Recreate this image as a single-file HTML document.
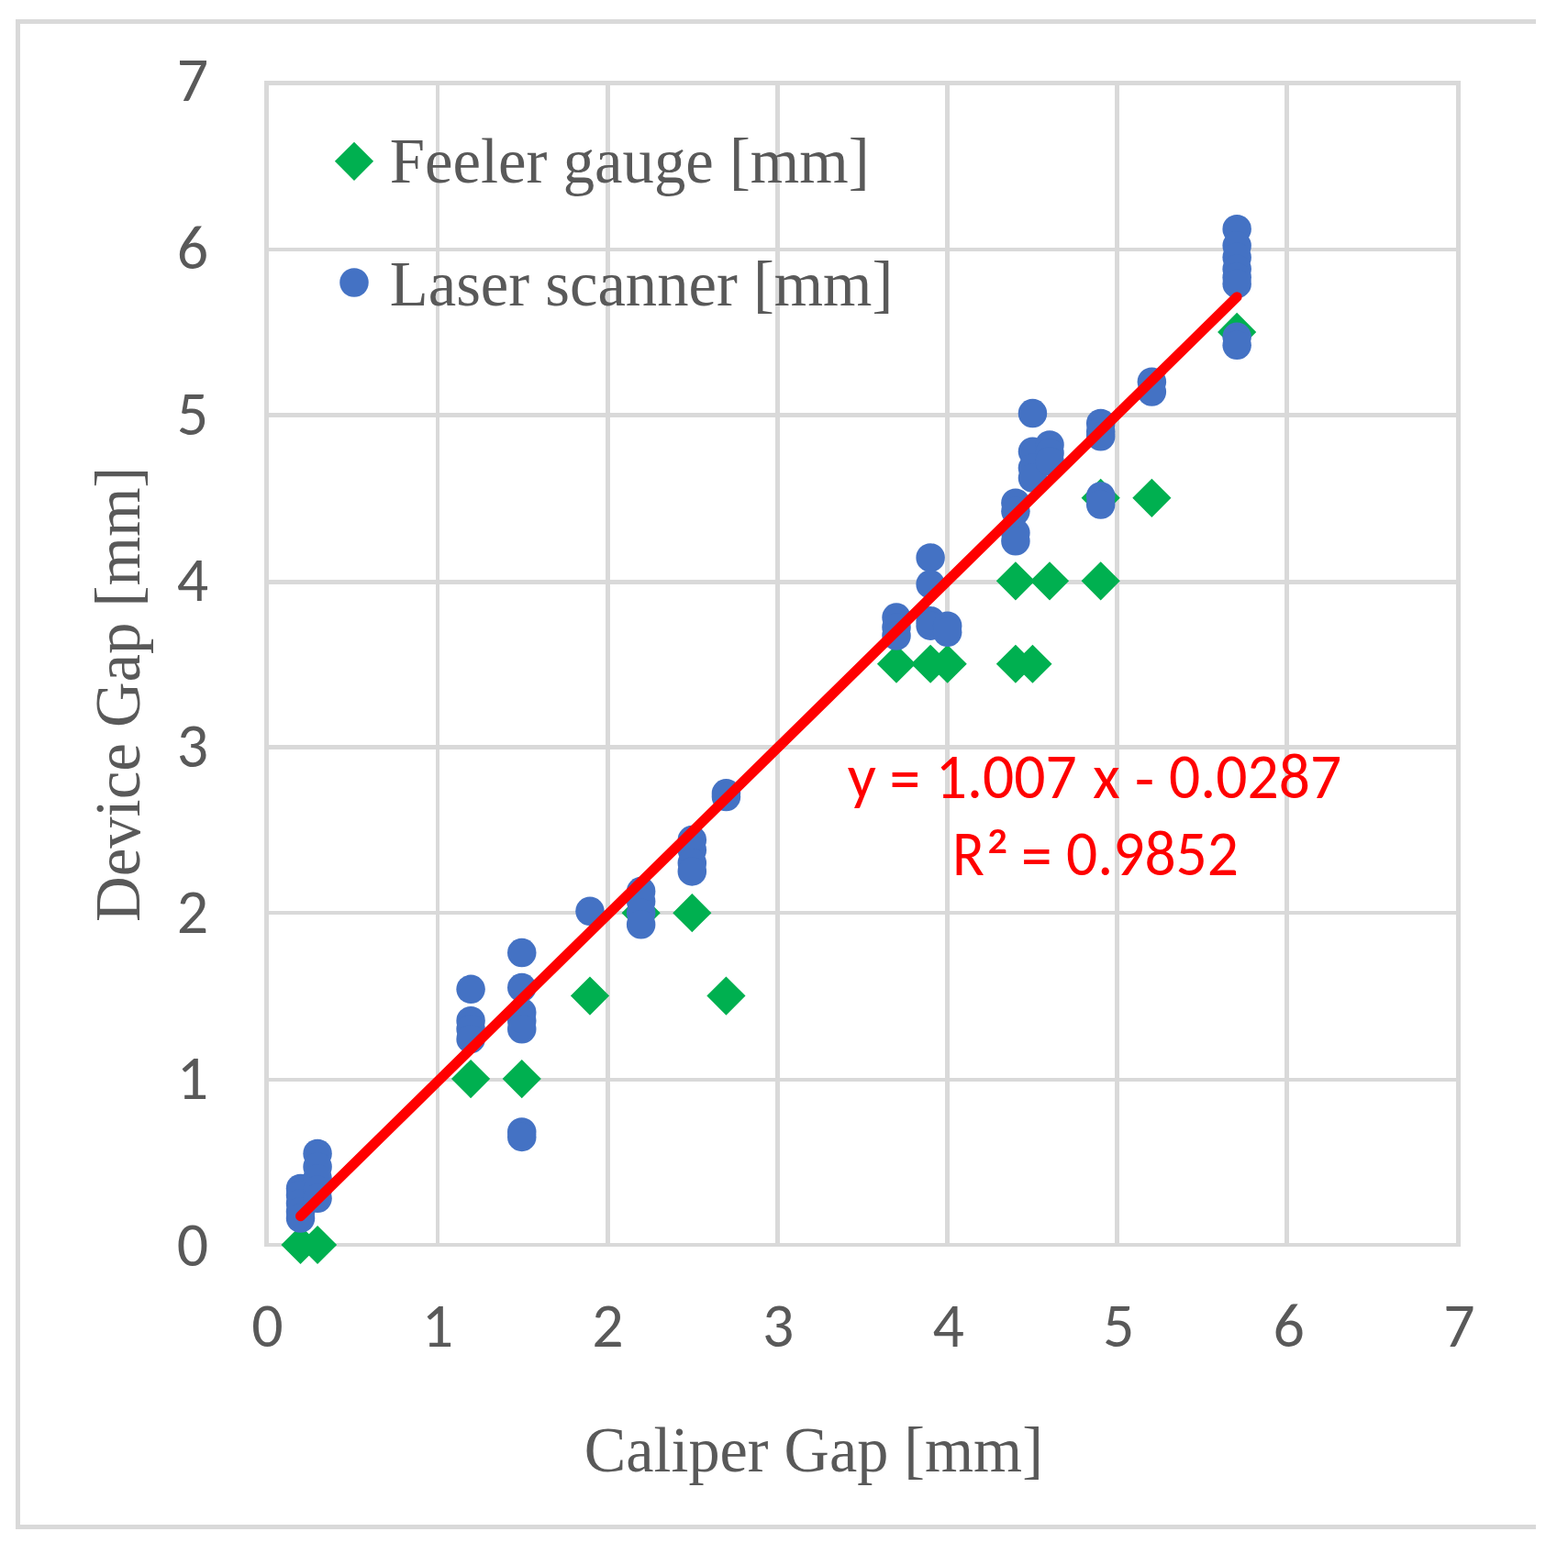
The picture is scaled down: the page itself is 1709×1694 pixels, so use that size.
<!DOCTYPE html>
<html><head><meta charset="utf-8"><title>Device Gap vs Caliper Gap</title>
<style>html,body{margin:0;padding:0;background:#fff;}body{width:1709px;height:1694px;overflow:hidden;}svg{display:block;}.ax{font-family:"Carlito","Liberation Sans",sans-serif;fill:#595959;font-size:67.8px;font-size-adjust:0.47755;}.tt{font-family:"Liberation Serif","Times New Roman",serif;fill:#595959;font-size:70px;}.eq{font-family:"Carlito","Liberation Sans",sans-serif;fill:#ff0000;font-size:67.8px;font-size-adjust:0.47755;}</style></head><body>
<svg width="1709" height="1694" viewBox="0 0 1709 1694">
<rect width="1709" height="1694" fill="#fff"/>
<g fill="#d9d9d9" shape-rendering="crispEdges">
<rect x="17" y="21" width="1657" height="5"/>
<rect x="17" y="21" width="5" height="1646"/>
<rect x="17" y="1662" width="1657" height="5"/>
<rect x="288" y="88" width="5" height="1271"/>
<rect x="475" y="88" width="4" height="1271"/>
<rect x="660" y="88" width="5" height="1271"/>
<rect x="845" y="88" width="5" height="1271"/>
<rect x="1030" y="88" width="5" height="1271"/>
<rect x="1215" y="88" width="5" height="1271"/>
<rect x="1400" y="88" width="5" height="1271"/>
<rect x="1587" y="88" width="5" height="1271"/>
<rect x="288" y="1355" width="1304" height="4"/>
<rect x="288" y="1175" width="1304" height="4"/>
<rect x="288" y="993" width="1304" height="4"/>
<rect x="288" y="812" width="1304" height="5"/>
<rect x="288" y="632" width="1304" height="5"/>
<rect x="288" y="450" width="1304" height="5"/>
<rect x="288" y="270" width="1304" height="4"/>
<rect x="288" y="88" width="1304" height="5"/>
</g>
<text class="ax" text-anchor="end" textLength="35.48" lengthAdjust="spacingAndGlyphs" transform="translate(227.2 1379.5) scale(0.97 1)">0</text>
<text class="ax" text-anchor="end" textLength="35.48" lengthAdjust="spacingAndGlyphs" transform="translate(227.2 1197.6) scale(0.97 1)">1</text>
<text class="ax" text-anchor="end" textLength="35.48" lengthAdjust="spacingAndGlyphs" transform="translate(227.2 1016.6) scale(0.97 1)">2</text>
<text class="ax" text-anchor="end" textLength="35.48" lengthAdjust="spacingAndGlyphs" transform="translate(227.2 835.7) scale(0.97 1)">3</text>
<text class="ax" text-anchor="end" textLength="35.48" lengthAdjust="spacingAndGlyphs" transform="translate(227.2 654.8) scale(0.97 1)">4</text>
<text class="ax" text-anchor="end" textLength="35.48" lengthAdjust="spacingAndGlyphs" transform="translate(227.2 473.8) scale(0.97 1)">5</text>
<text class="ax" text-anchor="end" textLength="35.48" lengthAdjust="spacingAndGlyphs" transform="translate(227.2 292.9) scale(0.97 1)">6</text>
<text class="ax" text-anchor="end" textLength="35.48" lengthAdjust="spacingAndGlyphs" transform="translate(227.2 110.1) scale(0.97 1)">7</text>
<text class="ax" text-anchor="middle" textLength="35.48" lengthAdjust="spacingAndGlyphs" transform="translate(291.4 1467.9) scale(0.97 1)">0</text>
<text class="ax" text-anchor="middle" textLength="35.48" lengthAdjust="spacingAndGlyphs" transform="translate(477.0 1467.9) scale(0.97 1)">1</text>
<text class="ax" text-anchor="middle" textLength="35.48" lengthAdjust="spacingAndGlyphs" transform="translate(662.5 1467.9) scale(0.97 1)">2</text>
<text class="ax" text-anchor="middle" textLength="35.48" lengthAdjust="spacingAndGlyphs" transform="translate(848.1 1467.9) scale(0.97 1)">3</text>
<text class="ax" text-anchor="middle" textLength="35.48" lengthAdjust="spacingAndGlyphs" transform="translate(1033.7 1467.9) scale(0.97 1)">4</text>
<text class="ax" text-anchor="middle" textLength="35.48" lengthAdjust="spacingAndGlyphs" transform="translate(1219.2 1467.9) scale(0.97 1)">5</text>
<text class="ax" text-anchor="middle" textLength="35.48" lengthAdjust="spacingAndGlyphs" transform="translate(1404.8 1467.9) scale(0.97 1)">6</text>
<text class="ax" text-anchor="middle" textLength="35.48" lengthAdjust="spacingAndGlyphs" transform="translate(1590.4 1467.9) scale(0.97 1)">7</text>
<text class="tt" textLength="513.16" lengthAdjust="spacingAndGlyphs" transform="translate(636.8 1604) scale(0.9745 1)">Caliper Gap [mm]</text>
<text class="tt" textLength="505.26" lengthAdjust="spacingAndGlyphs" transform="translate(151.8 1004.9) rotate(-90) scale(0.982 1)">Device Gap [mm]</text>
<path d="M386 154.7 L407.1 175.8 L386 196.9 L364.9 175.8Z" fill="#00b050"/>
<circle cx="386" cy="308" r="15.75" fill="#4472c4"/>
<text class="tt" textLength="532.54" lengthAdjust="spacingAndGlyphs" transform="translate(424.8 199.4) scale(0.9817 1)">Feeler gauge [mm]</text>
<text class="tt" textLength="559.68" lengthAdjust="spacingAndGlyphs" transform="translate(424.8 332.5) scale(0.980 1)">Laser scanner [mm]</text>
<path d="M327.51 1335.90L348.61 1357.00L327.51 1378.10L306.41 1357.00ZM346.07 1335.90L367.17 1357.00L346.07 1378.10L324.97 1357.00ZM513.08 1154.97L534.18 1176.07L513.08 1197.17L491.98 1176.07ZM568.75 1154.97L589.86 1176.07L568.75 1197.17L547.65 1176.07ZM642.98 1064.51L664.08 1085.61L642.98 1106.70L621.88 1085.61ZM791.44 1064.51L812.54 1085.61L791.44 1106.70L770.34 1085.61ZM698.65 974.04L719.75 995.14L698.65 1016.24L677.55 995.14ZM754.32 974.04L775.42 995.14L754.32 1016.24L733.22 995.14ZM977.01 702.64L998.11 723.75L977.01 744.85L955.91 723.75ZM1014.12 702.64L1035.22 723.75L1014.12 744.85L993.02 723.75ZM1032.68 702.64L1053.78 723.75L1032.68 744.85L1011.58 723.75ZM1106.91 702.64L1128.01 723.75L1106.91 744.85L1085.81 723.75ZM1125.46 702.64L1146.56 723.75L1125.46 744.85L1104.37 723.75ZM1106.91 612.18L1128.01 633.28L1106.91 654.38L1085.81 633.28ZM1144.02 612.18L1165.12 633.28L1144.02 654.38L1122.92 633.28ZM1199.69 612.18L1220.79 633.28L1199.69 654.38L1178.59 633.28ZM1199.69 521.71L1220.79 542.81L1199.69 563.91L1178.59 542.81ZM1255.36 521.71L1276.46 542.81L1255.36 563.91L1234.26 542.81ZM1348.15 340.78L1369.25 361.88L1348.15 382.99L1327.05 361.88Z" fill="#00b050"/>
<g fill="#4472c4">
<circle cx="327.51" cy="1295.48" r="15.75"/>
<circle cx="327.51" cy="1302.72" r="15.75"/>
<circle cx="327.51" cy="1311.77" r="15.75"/>
<circle cx="327.51" cy="1320.81" r="15.75"/>
<circle cx="327.51" cy="1328.05" r="15.75"/>
<circle cx="346.07" cy="1257.49" r="15.75"/>
<circle cx="346.07" cy="1271.96" r="15.75"/>
<circle cx="346.07" cy="1284.63" r="15.75"/>
<circle cx="346.07" cy="1297.29" r="15.75"/>
<circle cx="346.07" cy="1306.34" r="15.75"/>
<circle cx="513.08" cy="1078.37" r="15.75"/>
<circle cx="513.08" cy="1112.74" r="15.75"/>
<circle cx="513.08" cy="1121.79" r="15.75"/>
<circle cx="513.08" cy="1132.65" r="15.75"/>
<circle cx="568.75" cy="1038.56" r="15.75"/>
<circle cx="568.75" cy="1076.56" r="15.75"/>
<circle cx="568.75" cy="1103.70" r="15.75"/>
<circle cx="568.75" cy="1112.74" r="15.75"/>
<circle cx="568.75" cy="1121.79" r="15.75"/>
<circle cx="568.75" cy="1233.97" r="15.75"/>
<circle cx="568.75" cy="1239.40" r="15.75"/>
<circle cx="642.98" cy="993.33" r="15.75"/>
<circle cx="698.65" cy="971.62" r="15.75"/>
<circle cx="698.65" cy="982.47" r="15.75"/>
<circle cx="698.65" cy="995.14" r="15.75"/>
<circle cx="698.65" cy="1007.81" r="15.75"/>
<circle cx="754.32" cy="915.53" r="15.75"/>
<circle cx="754.32" cy="926.39" r="15.75"/>
<circle cx="754.32" cy="940.86" r="15.75"/>
<circle cx="754.32" cy="949.91" r="15.75"/>
<circle cx="791.44" cy="864.87" r="15.75"/>
<circle cx="791.44" cy="868.49" r="15.75"/>
<circle cx="977.01" cy="673.08" r="15.75"/>
<circle cx="977.01" cy="683.94" r="15.75"/>
<circle cx="977.01" cy="692.99" r="15.75"/>
<circle cx="1014.12" cy="607.95" r="15.75"/>
<circle cx="1014.12" cy="636.90" r="15.75"/>
<circle cx="1014.12" cy="676.70" r="15.75"/>
<circle cx="1014.12" cy="682.13" r="15.75"/>
<circle cx="1032.68" cy="682.13" r="15.75"/>
<circle cx="1032.68" cy="689.37" r="15.75"/>
<circle cx="1106.91" cy="548.24" r="15.75"/>
<circle cx="1106.91" cy="557.29" r="15.75"/>
<circle cx="1106.91" cy="580.81" r="15.75"/>
<circle cx="1106.91" cy="589.86" r="15.75"/>
<circle cx="1125.46" cy="450.54" r="15.75"/>
<circle cx="1125.46" cy="492.15" r="15.75"/>
<circle cx="1125.46" cy="510.25" r="15.75"/>
<circle cx="1125.46" cy="521.10" r="15.75"/>
<circle cx="1144.02" cy="484.92" r="15.75"/>
<circle cx="1144.02" cy="493.96" r="15.75"/>
<circle cx="1144.02" cy="503.01" r="15.75"/>
<circle cx="1199.69" cy="461.40" r="15.75"/>
<circle cx="1199.69" cy="470.44" r="15.75"/>
<circle cx="1199.69" cy="475.87" r="15.75"/>
<circle cx="1199.69" cy="541.01" r="15.75"/>
<circle cx="1199.69" cy="550.05" r="15.75"/>
<circle cx="1255.36" cy="416.16" r="15.75"/>
<circle cx="1255.36" cy="427.02" r="15.75"/>
<circle cx="1348.15" cy="249.71" r="15.75"/>
<circle cx="1348.15" cy="267.80" r="15.75"/>
<circle cx="1348.15" cy="280.47" r="15.75"/>
<circle cx="1348.15" cy="293.13" r="15.75"/>
<circle cx="1348.15" cy="302.18" r="15.75"/>
<circle cx="1348.15" cy="309.42" r="15.75"/>
<circle cx="1348.15" cy="367.31" r="15.75"/>
<circle cx="1348.15" cy="376.36" r="15.75"/>
</g>
<line x1="327.51" y1="1325.75" x2="1348.15" y2="323.67" stroke="#ff0000" stroke-width="11" stroke-linecap="round"/>
<text class="eq" style="font-size:67.80px" textLength="31.69" lengthAdjust="spacingAndGlyphs" transform="translate(923.8 870.4) scale(0.983 1)">y</text>
<text class="eq" style="font-size:67.80px" textLength="34.85" lengthAdjust="spacingAndGlyphs" transform="translate(969.4 873.2) scale(0.965 1.075)">=</text>
<text class="eq" style="font-size:67.80px" textLength="159.55" lengthAdjust="spacingAndGlyphs" transform="translate(1019.8 870.4) scale(0.965 1)">1.007</text>
<text class="eq" style="font-size:67.80px" textLength="30.32" lengthAdjust="spacingAndGlyphs" transform="translate(1190.9 870.4) scale(0.98 1)">x</text>
<text class="eq" style="font-size:67.80px" textLength="21.44" lengthAdjust="spacingAndGlyphs" transform="translate(1236.8 872.4) scale(1.0 1)">-</text>
<text class="eq" style="font-size:67.80px" textLength="195.01" lengthAdjust="spacingAndGlyphs" transform="translate(1274.0 870.4) scale(0.965 1)">0.0287</text>
<text class="eq" style="font-size:67.80px" textLength="38.00" lengthAdjust="spacingAndGlyphs" transform="translate(1037.9 953.7) scale(0.92 1)">R</text>
<text class="eq" style="font-size:75.30px" textLength="25.30" lengthAdjust="spacingAndGlyphs" transform="translate(1074.5 962.1) scale(1.0 1)">²</text>
<text class="eq" style="font-size:67.80px" textLength="34.85" lengthAdjust="spacingAndGlyphs" transform="translate(1113.1 957.0) scale(0.965 1.06)">=</text>
<text class="eq" style="font-size:67.80px" textLength="195.01" lengthAdjust="spacingAndGlyphs" transform="translate(1161.9 953.7) scale(0.965 1)">0.9852</text>
</svg></body></html>
